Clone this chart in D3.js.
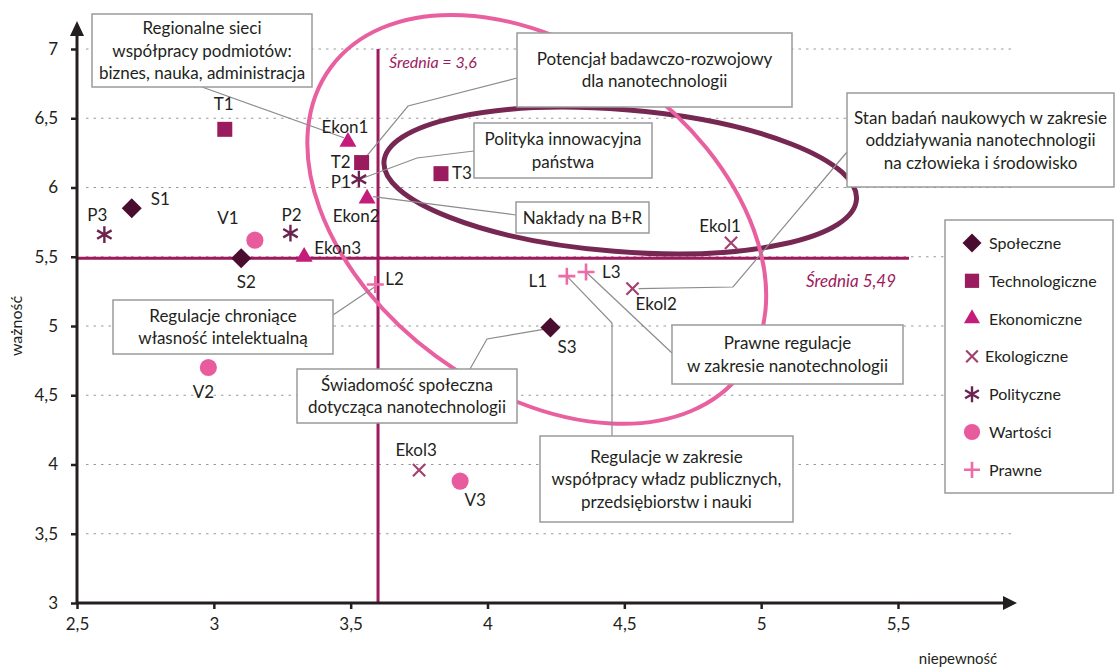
<!DOCTYPE html>
<html>
<head>
<meta charset="utf-8">
<script src="https://cdn.jsdelivr.net/npm/d3@7"></script>
<style>
  body { margin: 0; background: #fff; }
  text { font-family: Lato, "Open Sans", sans-serif; fill: #231f20; }
</style>
</head>
<body>
<svg id="chart" width="1115" height="668"></svg>
<script>
// ---- data ----
const categories = ["Społeczne", "Technologiczne", "Ekonomiczne", "Ekologiczne", "Polityczne", "Wartości", "Prawne"];

const spoleczneNames = ["S1", "S2", "S3"];
const spoleczneX = [2.70, 3.10, 4.23];
const spoleczneY = [5.85, 5.49, 4.99];

const technologiczneNames = ["T1", "T2", "T3"];
const technologiczneX = [3.04, 3.54, 3.83];
const technologiczneY = [6.42, 6.18, 6.10];

const ekonomiczneNames = ["Ekon1", "Ekon2", "Ekon3"];
const ekonomiczneX = [3.49, 3.56, 3.33];
const ekonomiczneY = [6.33, 5.92, 5.50];

const ekologiczneNames = ["Ekol1", "Ekol2", "Ekol3"];
const ekologiczneX = [4.89, 4.53, 3.75];
const ekologiczneY = [5.60, 5.27, 3.96];

const polityczneNames = ["P1", "P2", "P3"];
const polityczneX = [3.53, 3.28, 2.60];
const polityczneY = [6.06, 5.67, 5.66];

const wartosciNames = ["V1", "V2", "V3"];
const wartosciX = [3.15, 2.98, 3.90];
const wartosciY = [5.62, 4.70, 3.88];

const prawneNames = ["L1", "L2", "L3"];
const prawneX = [4.29, 3.59, 4.36];
const prawneY = [5.36, 5.30, 5.39];

const avgX = 3.6;
const avgY = 5.49;

const xTicks = [2.5, 3, 3.5, 4, 4.5, 5, 5.5];
const yTicks = [3, 3.5, 4, 4.5, 5, 5.5, 6, 6.5, 7];

// ---- styles ----
const colors = ["#4a0d30", "#9a1b5e", "#c51c7b", "#a2426f", "#6c2350", "#e85c9e", "#ef6aa8"];
const avgColor = "#9e1a5c";
const ink = "#231f20";

// label placement next to each point: dx, dy (to text centre), anchor
const labelPos = {
  S1: [19, -9, "start"], S2: [5, 24, "middle"], S3: [7, 20, "start"],
  T1: [-1, -25, "middle"], T2: [-11, -1, "end"], T3: [11, -1, "start"],
  Ekon1: [-3, -15, "middle"], Ekon2: [-11, 17, "middle"], Ekon3: [10, -9, "start"],
  Ekol1: [-11, -17, "middle"], Ekol2: [3, 15, "start"], Ekol3: [-3, -20, "middle"],
  P1: [-8, 3, "end"], P2: [1, -18, "middle"], P3: [-7, -20, "middle"],
  V1: [-27, -22, "middle"], V2: [-5, 24, "middle"], V3: [15, 19, "middle"],
  L1: [-29, 5, "middle"], L2: [10, -5, "start"], L3: [16, 0, "start"]
};

// callout boxes: [x, y, w, h], text lines, leader path (pixel elbows) ending at a point
const callouts = [
  { box: [92, 14, 220, 73], lines: ["Regionalne sieci", "współpracy podmiotów:", "biznes, nauka, administracja"], from: [202, 87], via: [], to: "Ekon1", off: [-4, -4] },
  { box: [517, 33, 275, 74], lines: ["Potencjał badawczo-rozwojowy", "dla nanotechnologii"], from: [517, 78], via: [[408, 106]], to: "T2", off: [3, -4] },
  { box: [474, 123, 178, 55], lines: ["Polityka innowacyjna", "państwa"], from: [474, 151], via: [[417, 158]], to: "P1", off: [1, 0] },
  { box: [516, 202, 133, 31], lines: ["Nakłady na B+R"], from: [516, 215], via: [], to: "Ekon2", off: [6, -2] },
  { box: [847, 93, 267, 94], lines: ["Stan badań naukowych w zakresie", "oddziaływania nanotechnologii", "na człowieka i środowisko"], from: [847, 152], via: [[733, 287]], to: "Ekol2", off: [6, 0] },
  { box: [113, 300, 220, 54], lines: ["Regulacje chroniące", "własność intelektualną"], from: [333, 315], via: [], to: "L2", off: [0, 2] },
  { box: [297, 369, 220, 54], lines: ["Świadomość społeczna", "dotycząca nanotechnologii"], from: [470, 369], via: [[487, 339]], to: "S3", off: [-7, 2] },
  { box: [672, 325, 231, 59], lines: ["Prawne regulacje", "w zakresie nanotechnologii"], from: [672, 353], via: [], to: "L3", off: [0, 0] },
  { box: [540, 436, 253, 86], lines: ["Regulacje w zakresie", "współpracy władz publicznych,", "przedsiębiorstw i nauki"], from: [612, 436], via: [[612, 323]], to: "L1", off: [0, 0] }
];

// ---- marker shapes ----
const xShape = { draw(c, s) { const r = Math.sqrt(s) / 2; c.moveTo(-r, -r); c.lineTo(r, r); c.moveTo(-r, r); c.lineTo(r, -r); } };
const plusShape = { draw(c, s) { const r = Math.sqrt(s) / 2; c.moveTo(-r, 0); c.lineTo(r, 0); c.moveTo(0, -r); c.lineTo(0, r); } };
const starShape = { draw(c, s) {
  const r = Math.sqrt(s) / 2, t = r / 2, u = t * Math.sqrt(3);
  c.moveTo(0, -r); c.lineTo(0, r); c.moveTo(-u, -t); c.lineTo(u, t); c.moveTo(-u, t); c.lineTo(u, -t);
} };

const markers = [
  { type: d3.symbolSquare, size: 200, fill: true, rot: 45 },
  { type: d3.symbolSquare, size: 225, fill: true, rot: 0 },
  { type: d3.symbolTriangle, size: 125, fill: true, rot: 0 },
  { type: xShape, size: 150, fill: false, width: 2.2, rot: 0 },
  { type: starShape, size: 280, fill: false, width: 2.4, rot: 0 },
  { type: d3.symbolCircle, size: 230, fill: true, rot: 0 },
  { type: plusShape, size: 290, fill: false, width: 2.6, rot: 0 }
];

const seriesNames = [spoleczneNames, technologiczneNames, ekonomiczneNames, ekologiczneNames, polityczneNames, wartosciNames, prawneNames];
const seriesX = [spoleczneX, technologiczneX, ekonomiczneX, ekologiczneX, polityczneX, wartosciX, prawneX];
const seriesY = [spoleczneY, technologiczneY, ekonomiczneY, ekologiczneY, polityczneY, wartosciY, prawneY];

const points = [];
categories.forEach((cat, i) => {
  seriesNames[i].forEach((n, j) => points.push({ cat: i, name: n, x: seriesX[i][j], y: seriesY[i][j] }));
});
const byName = {};
points.forEach(p => byName[p.name] = p);

// ---- drawing ----
const svg = d3.select("#chart");
const x = d3.scaleLinear().domain([2.5, 5.5]).range([77, 898]);
const y = d3.scaleLinear().domain([3, 7]).range([603, 49]);
const fmt = d => String(d).replace(".", ",");

// dotted grid
svg.append("g").selectAll("line")
  .data(yTicks.filter(d => d > 3))
  .join("line")
    .attr("x1", 86).attr("x2", 1015)
    .attr("y1", d => y(d)).attr("y2", d => y(d))
    .attr("stroke", "#9a9a9a").attr("stroke-width", 1.2)
    .attr("stroke-dasharray", "2.5,5");

// average lines
svg.append("line")
  .attr("x1", x(avgX)).attr("x2", x(avgX))
  .attr("y1", y(7)).attr("y2", y(3))
  .attr("stroke", avgColor).attr("stroke-width", 3);
svg.append("line")
  .attr("x1", x(2.5)).attr("x2", x(5.54))
  .attr("y1", y(avgY)).attr("y2", y(avgY))
  .attr("stroke", avgColor).attr("stroke-width", 3);

svg.append("text")
  .attr("x", x(avgX) + 11).attr("y", 68)
  .style("font-style", "italic").style("font-size", "16px").style("fill", avgColor)
  .text("Średnia = 3,6");
svg.append("text")
  .attr("x", 806).attr("y", y(avgY) + 29)
  .style("font-style", "italic").style("font-size", "17px").style("fill", avgColor)
  .text("Średnia 5,49");

// ellipses
svg.append("ellipse")
  .attr("transform", `translate(${x(4.485)},${y(6.05)}) rotate(4.6)`)
  .attr("rx", 237).attr("ry", 71)
  .attr("fill", "none").attr("stroke", "#762853").attr("stroke-width", 5);
svg.append("ellipse")
  .attr("transform", `translate(${x(4.18)},${y(5.77)}) rotate(36.4)`)
  .attr("rx", 256).attr("ry", 170)
  .attr("fill", "none").attr("stroke", "#e8609f").attr("stroke-width", 4);

// axes
const xAxis = svg.append("g")
  .attr("transform", `translate(0,${y(3)})`)
  .call(d3.axisBottom(x).tickValues(xTicks).tickSize(6).tickPadding(9).tickFormat(fmt));
const yAxis = svg.append("g")
  .attr("transform", `translate(${x(2.5)},0)`)
  .call(d3.axisLeft(y).tickValues(yTicks).tickSize(6).tickPadding(13).tickFormat(fmt));
[xAxis, yAxis].forEach(g => {
  g.select(".domain").remove();
  g.selectAll(".tick line").attr("stroke", ink).attr("stroke-width", 2.5);
  g.selectAll(".tick text").style("font-size", "17px").style("font-family", "Lato, sans-serif").attr("fill", ink);
});

svg.append("line").attr("x1", x(2.5)).attr("x2", 1004).attr("y1", y(3)).attr("y2", y(3))
  .attr("stroke", ink).attr("stroke-width", 3);
svg.append("path").attr("d", `M1017,${y(3)} L1003,${y(3) - 7} L1003,${y(3) + 7} Z`).attr("fill", ink);
svg.append("line").attr("x1", x(2.5)).attr("x2", x(2.5)).attr("y1", y(3) + 1).attr("y2", 34)
  .attr("stroke", ink).attr("stroke-width", 3);
svg.append("path").attr("d", `M${x(2.5)},21 L${x(2.5) - 7},36 L${x(2.5) + 7},36 Z`).attr("fill", ink);

svg.append("text")
  .attr("transform", "translate(22,326) rotate(-90)")
  .attr("text-anchor", "middle").style("font-size", "16px")
  .text("ważność");
svg.append("text")
  .attr("x", 958).attr("y", 664)
  .attr("text-anchor", "middle").style("font-size", "15px")
  .text("niepewność");

// callouts: leaders then boxes
callouts.forEach(c => {
  const p = byName[c.to];
  const pts = [c.from].concat(c.via, [[x(p.x) + c.off[0], y(p.y) + c.off[1]]]);
  svg.append("path")
    .attr("d", d3.line()(pts))
    .attr("fill", "none").attr("stroke", "#8c8c8c").attr("stroke-width", 1.2);
});
callouts.forEach(c => {
  const [bx, by, bw, bh] = c.box;
  svg.append("rect")
    .attr("x", bx).attr("y", by).attr("width", bw).attr("height", bh)
    .attr("fill", "#fff").attr("stroke", "#9a9a9a").attr("stroke-width", 1.5);
  const lh = 22.5;
  const top = by + bh / 2 - (c.lines.length - 1) * lh / 2 + 6;
  c.lines.forEach((l, k) => {
    svg.append("text")
      .attr("x", bx + bw / 2).attr("y", top + k * lh)
      .attr("text-anchor", "middle").style("font-size", "17px")
      .text(l);
  });
});

// points
function drawMarker(g, i, scale) {
  const m = markers[i];
  const path = g.append("path")
    .attr("d", d3.symbol().type(m.type).size(m.size * (scale || 1))())
    .attr("transform", `rotate(${m.rot})`);
  if (m.fill) path.attr("fill", colors[i]);
  else path.attr("fill", "none").attr("stroke", colors[i]).attr("stroke-width", m.width);
  return path;
}

const pg = svg.append("g").selectAll("g")
  .data(points)
  .join("g")
    .attr("transform", d => `translate(${x(d.x)},${y(d.y)})`);
pg.each(function (d) { drawMarker(d3.select(this), d.cat); });
pg.append("text")
  .attr("x", d => labelPos[d.name][0])
  .attr("y", d => labelPos[d.name][1] + 6)
  .attr("text-anchor", d => labelPos[d.name][2])
  .style("font-size", "17px")
  .text(d => d.name);

// legend
const lg = svg.append("g");
lg.append("rect").attr("x", 945).attr("y", 220).attr("width", 168).attr("height", 273)
  .attr("fill", "#fff").attr("stroke", "#9a9a9a").attr("stroke-width", 1.5);
const li = lg.selectAll("g.item")
  .data(categories)
  .join("g").attr("class", "item")
    .attr("transform", (d, i) => `translate(972,${243 + i * 37.8})`);
li.each(function (d, i) { drawMarker(d3.select(this), i, 0.9); });
li.append("text")
  .attr("x", d => d === "Ekologiczne" ? 13 : 17).attr("y", 6)
  .style("font-size", "16px")
  .text(d => d);
</script>
</body>
</html>
